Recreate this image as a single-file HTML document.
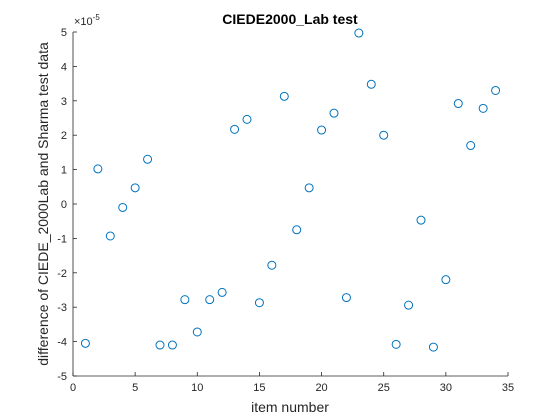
<!DOCTYPE html>
<html><head><meta charset="utf-8"><style>
body{margin:0;background:#fff;}
svg{display:block;font-family:"Liberation Sans",sans-serif;}
</style></head><body>
<svg id="chart" width="560" height="420" viewBox="0 0 560 420">
<rect x="0" y="0" width="560" height="420" fill="#fff"/>
<line x1="73" y1="376" x2="508" y2="376" stroke="#262626" stroke-width="0.8"/>
<line x1="73" y1="32" x2="73" y2="376" stroke="#262626" stroke-width="0.8"/>
<g id="ticks"></g>
<g id="points"></g>
<text x="290" y="24" text-anchor="middle" font-size="14" font-weight="bold" fill="#000">CIEDE2000_Lab test</text>
<text x="290" y="412" text-anchor="middle" font-size="14" fill="#262626">item number</text>
<text transform="translate(48,204) rotate(-90)" text-anchor="middle" font-size="14" fill="#262626">difference of CIEDE_2000Lab and Sharma test data</text>
<text x="74" y="25" font-size="11" fill="#262626">×10<tspan dy="-5" font-size="8">-5</tspan></text>
</svg>
<script>
const items=[1,2,3,4,5,6,7,8,9,10,11,12,13,14,15,16,17,18,19,20,21,22,23,24,25,26,27,28,29,30,31,32,33,34];
const diffs=[-4.05,1.02,-0.93,-0.1,0.47,1.3,-4.1,-4.1,-2.78,-3.72,-2.78,-2.57,2.17,2.46,-2.87,-1.78,3.13,-0.75,0.47,2.15,2.64,-2.72,4.97,3.48,2.0,-4.08,-2.94,-0.47,-4.16,-2.2,2.92,1.7,2.78,3.3];
const xTicks=[0,5,10,15,20,25,30,35];
const yTicks=[-5,-4,-3,-2,-1,0,1,2,3,4,5];
const X0=73,X1=508,Y0=376,Y1=32;
function sx(v){return X0+(v-0)/(35-0)*(X1-X0);}
function sy(v){return Y0-(v+5)/10*(Y0-Y1);}
const NS="http://www.w3.org/2000/svg";
const tg=document.getElementById('ticks');
function mk(tag,attrs,parent){const e=document.createElementNS(NS,tag);for(const k in attrs)e.setAttribute(k,attrs[k]);parent.appendChild(e);return e;}
xTicks.forEach(t=>{
  const x=sx(t);
  const l1=mk('line',{x1:x,x2:x,y1:Y0,y2:Y0-4,stroke:'#262626','stroke-width':0.8},tg);
  
  
  const tx=mk('text',{x:x,y:Y0+15,'text-anchor':'middle','font-size':11,fill:'#262626'},tg);
  tx.textContent=t;
  
  
});
yTicks.forEach(t=>{
  const y=sy(t);
  const l1=mk('line',{x1:X0,x2:X0+4,y1:y,y2:y,stroke:'#262626','stroke-width':0.8},tg);
  
  
  const tx=mk('text',{x:X0-6,y:y+4,'text-anchor':'end','font-size':11,fill:'#262626'},tg);
  tx.textContent=t;
  
  
});
const pg=document.getElementById('points');
items.forEach((it,i)=>{
  const c=mk('circle',{cx:sx(it),cy:sy(diffs[i]),r:4,fill:'none',stroke:'#0072BD','stroke-width':1},pg);
  
  
});
</script>
</body></html>
